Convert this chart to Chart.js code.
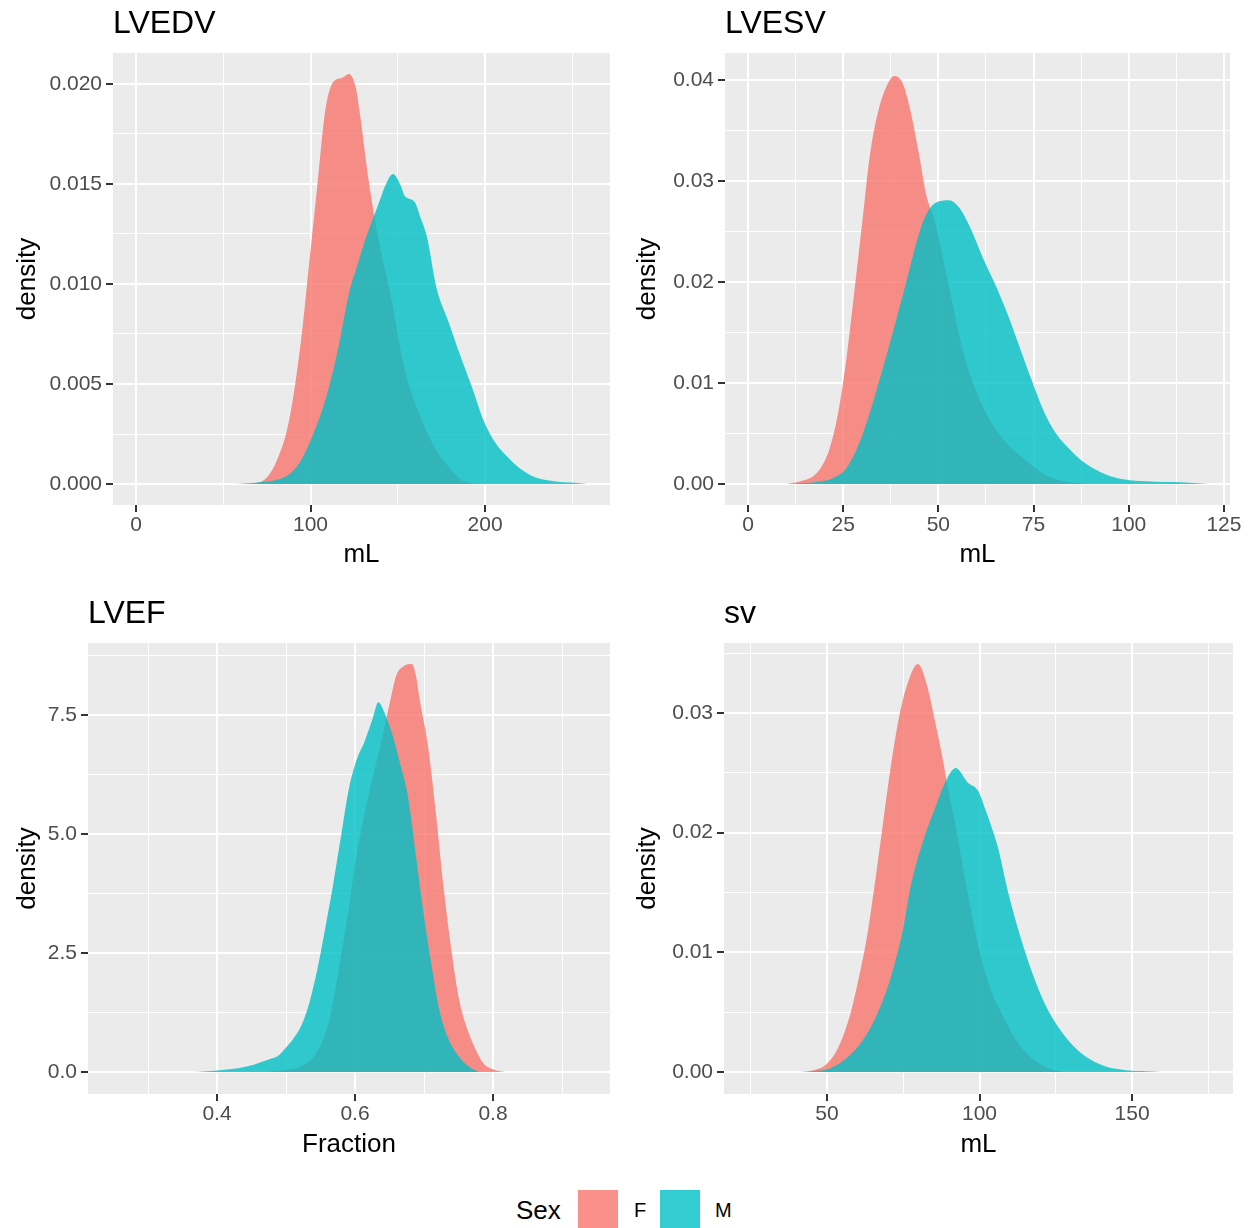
<!DOCTYPE html>
<html>
<head>
<meta charset="utf-8">
<title>Density by sex</title>
<script src="https://cdn.jsdelivr.net/npm/chart.js@4.4.1/dist/chart.umd.min.js"></script>
<style>
  body { margin: 0; background: #fff; width: 1254px; height: 1228px; position: relative; overflow: hidden;
         font-family: "Liberation Sans", Arial, sans-serif; }
  canvas { position: absolute; }
  .lg { position: absolute; white-space: nowrap; }
  .key { position: absolute; width: 40px; height: 38px; }
</style>
</head>
<body>
<canvas id="lvedv" width="620" height="580" style="left:0;top:0"></canvas>
<canvas id="lvesv" width="634" height="580" style="left:620px;top:0"></canvas>
<canvas id="lvef" width="620" height="580" style="left:0;top:590px"></canvas>
<canvas id="sv" width="634" height="580" style="left:620px;top:590px"></canvas>
<div id="legend"></div>
<script>
// groups
const sexes = ["F", "M"];
const sexColors = ["rgba(248,118,109,0.8)", "rgba(0,191,196,0.8)"];

// LVEDV (mL)
const lvedvF_x = [56, 64, 72, 81, 88, 95, 99.4, 104, 108.5, 113, 118, 122, 126, 128, 133.6, 139, 146, 154, 161, 170, 179, 188, 198];
const lvedvF_y = [0, 0.00003, 0.00013, 0.00124, 0.0033, 0.0075, 0.0112, 0.015, 0.0187, 0.0201, 0.0203, 0.0205, 0.0198, 0.0187, 0.015, 0.0122, 0.0094, 0.0057, 0.0038, 0.002, 0.00087, 0.00013, 0];
const lvedvM_x = [58.5, 70, 81.2, 88, 94.9, 101.7, 108.5, 115.4, 122.2, 126.7, 131.3, 138.1, 143.8, 147.2, 151.8, 154, 159.7, 163.1, 166.6, 172.2, 179.1, 185.9, 192.7, 199.5, 206.4, 213.2, 220, 229.1, 240.5, 249.6, 258.7];
const lvedvM_y = [0, 0.00008, 0.00022, 0.0005, 0.00124, 0.00254, 0.0042, 0.0066, 0.0096, 0.0109, 0.0122, 0.0138, 0.0151, 0.0155, 0.0149, 0.0144, 0.0141, 0.0133, 0.0124, 0.0098, 0.0081, 0.0064, 0.0048, 0.0031, 0.002, 0.00133, 0.00078, 0.00032, 0.00013, 0.00007, 0];

// LVESV (mL)
const lvesvF_x = [10.3, 14, 17.2, 19.3, 21.5, 23.6, 25.7, 27.8, 30, 32, 34.2, 36.3, 38.4, 40.6, 42.7, 44.8, 46.9, 49.1, 53.3, 56.5, 59.7, 63.9, 68.2, 72.4, 77.7, 83, 88.4];
const lvesvF_y = [0, 0.0003, 0.0008, 0.0017, 0.0036, 0.0069, 0.012, 0.0186, 0.0259, 0.0325, 0.0369, 0.0393, 0.0404, 0.0397, 0.0369, 0.0329, 0.0285, 0.0259, 0.0186, 0.0131, 0.0094, 0.0061, 0.0039, 0.0025, 0.001, 0.00026, 0];
const lvesvM_x = [12, 19.3, 22.5, 25.7, 29.9, 35.3, 40.6, 45.9, 49.1, 52.8, 55.4, 58.6, 61.8, 65, 68.2, 71.4, 74.6, 77.7, 80.9, 84.1, 88.4, 93.7, 99, 104.3, 114.9, 121.3];
const lvesvM_y = [0, 0.00026, 0.0006, 0.0015, 0.0047, 0.0113, 0.0186, 0.0259, 0.0278, 0.0281, 0.0274, 0.0252, 0.0223, 0.0197, 0.0168, 0.0135, 0.0102, 0.0072, 0.005, 0.0036, 0.0021, 0.001, 0.00044, 0.00026, 0.00015, 0];

// LVEF (fraction)
const lvefF_x = [0.47, 0.499, 0.522, 0.545, 0.562, 0.579, 0.591, 0.602, 0.619, 0.637, 0.651, 0.66, 0.671, 0.6825, 0.688, 0.694, 0.7055, 0.717, 0.728, 0.74, 0.751, 0.763, 0.774, 0.7857, 0.803, 0.817];
const lvefF_y = [0, 0.04, 0.12, 0.43, 1.05, 2.37, 3.45, 4.54, 5.78, 6.87, 7.8, 8.34, 8.53, 8.57, 8.34, 7.8, 6.87, 5.47, 3.92, 2.52, 1.51, 0.89, 0.5, 0.19, 0.04, 0];
const lvefM_x = [0.3645, 0.3845, 0.4074, 0.43, 0.453, 0.476, 0.4877, 0.499, 0.5106, 0.522, 0.5335, 0.545, 0.5564, 0.568, 0.5794, 0.5908, 0.6023, 0.6137, 0.6252, 0.6338, 0.6424, 0.6539, 0.6653, 0.6768, 0.6883, 0.6997, 0.7112, 0.7226, 0.734, 0.7513, 0.7685, 0.78];
const lvefM_y = [0, 0.015, 0.04, 0.08, 0.155, 0.27, 0.33, 0.5, 0.7, 0.97, 1.44, 2.13, 2.99, 3.92, 4.93, 5.93, 6.56, 6.94, 7.41, 7.77, 7.56, 7.1, 6.48, 5.78, 4.54, 3.3, 2.21, 1.28, 0.74, 0.31, 0.08, 0];

// SV (mL)
const svF_x = [41, 45.6, 49.6, 53.6, 57.6, 60.2, 62.9, 65.6, 68.2, 70.9, 73.5, 76.2, 79.8, 82.8, 85.5, 88.2, 89.5, 92.2, 94.8, 97.5, 100.1, 104.1, 108.1, 112.1, 117.4, 122.7, 128];
const svF_y = [0, 0.00015, 0.0006, 0.002, 0.0048, 0.0076, 0.011, 0.0156, 0.0205, 0.0255, 0.0295, 0.0323, 0.0341, 0.0323, 0.0292, 0.0258, 0.0239, 0.0205, 0.0168, 0.0131, 0.01, 0.0066, 0.0045, 0.0026, 0.0011, 0.0003, 0];
const svM_x = [42, 45.6, 50.9, 56.2, 61.6, 66.9, 70.9, 74.9, 77.5, 81.5, 85.5, 88.2, 92.2, 96.1, 99.5, 102.1, 106.1, 109.4, 113.4, 117.4, 121.4, 125.4, 130.7, 136, 141.4, 148, 154.7, 159.3];
const svM_y = [0, 0.00006, 0.0003, 0.0011, 0.0026, 0.0051, 0.0079, 0.0119, 0.0156, 0.0193, 0.0221, 0.0239, 0.0254, 0.0242, 0.0235, 0.0218, 0.0187, 0.015, 0.0113, 0.0082, 0.0057, 0.0039, 0.0022, 0.0011, 0.00046, 0.00015, 0.00006, 0];

// ticks
const lvedvXMajor = [0, 100, 200], lvedvXLabels = ["0", "100", "200"], lvedvXMinor = [50, 150, 250];
const lvedvYMajor = [0, 0.005, 0.01, 0.015, 0.02], lvedvYLabels = ["0.000", "0.005", "0.010", "0.015", "0.020"], lvedvYMinor = [0.0025, 0.0075, 0.0125, 0.0175];
const lvesvXMajor = [0, 25, 50, 75, 100, 125], lvesvXLabels = ["0", "25", "50", "75", "100", "125"], lvesvXMinor = [12.5, 37.5, 62.5, 87.5, 112.5];
const lvesvYMajor = [0, 0.01, 0.02, 0.03, 0.04], lvesvYLabels = ["0.00", "0.01", "0.02", "0.03", "0.04"], lvesvYMinor = [0.005, 0.015, 0.025, 0.035];
const lvefXMajor = [0.4, 0.6, 0.8], lvefXLabels = ["0.4", "0.6", "0.8"], lvefXMinor = [0.3, 0.5, 0.7, 0.9];
const lvefYMajor = [0, 2.5, 5, 7.5], lvefYLabels = ["0.0", "2.5", "5.0", "7.5"], lvefYMinor = [1.25, 3.75, 6.25, 8.75];
const svXMajor = [50, 100, 150], svXLabels = ["50", "100", "150"], svXMinor = [25, 75, 125, 175];
const svYMajor = [0, 0.01, 0.02, 0.03], svYLabels = ["0.00", "0.01", "0.02", "0.03"], svYMinor = [0.005, 0.015, 0.025, 0.035];

Chart.defaults.font.family = '"Liberation Sans", Arial, sans-serif';

const panelBg = {
  id: 'panelBg',
  beforeDraw(chart) {
    const a = chart.chartArea;
    chart.ctx.save();
    chart.ctx.fillStyle = '#EBEBEB';
    chart.ctx.fillRect(a.left, a.top, a.right - a.left, a.bottom - a.top);
    chart.ctx.restore();
  }
};

const panelTitle = {
  id: 'panelTitle',
  afterDraw(chart, args, opts) {
    const ctx = chart.ctx;
    ctx.save();
    ctx.font = '32px "Liberation Sans", Arial, sans-serif';
    ctx.fillStyle = '#000';
    ctx.textBaseline = 'alphabetic';
    ctx.fillText(opts.text, chart.chartArea.left, 33);
    ctx.restore();
  }
};

function pts(xs, ys) {
  return xs.map((x, i) => ({ x: x, y: ys[i] }));
}

function findIdx(list, v) {
  return list.findIndex(m => Math.abs(m - v) < 1e-9);
}

function axis(o) {
  // o: min, max, major, labels, minor, size, title, isX
  const all = o.major.concat(o.minor).sort((a, b) => a - b);
  const isMajor = c => c.tick && findIdx(o.major, c.tick.value) >= 0;
  return {
    type: 'linear',
    min: o.min,
    max: o.max,
    afterBuildTicks: s => { s.ticks = all.map(v => ({ value: v })); },
    afterFit: s => { if (o.isX) s.height = o.size; else s.width = o.size; },
    ticks: {
      autoSkip: false,
      maxRotation: 0,
      color: '#4D4D4D',
      font: { size: 21 },
      padding: o.isX ? 1 : 4,
      callback: v => { const i = findIdx(o.major, v); return i >= 0 ? o.labels[i] : ''; }
    },
    grid: {
      color: '#FFFFFF',
      lineWidth: c => isMajor(c) ? 2 : 1,
      tickColor: c => isMajor(c) ? '#333333' : 'rgba(0,0,0,0)',
      tickLength: 7,
      tickWidth: 2
    },
    border: { display: false },
    title: {
      display: true,
      text: o.title,
      color: '#000',
      font: { size: 26 },
      padding: o.isX ? { top: 0, bottom: 10 } : { top: 12, bottom: 0 }
    }
  };
}

function makePanel(id, p) {
  new Chart(document.getElementById(id), {
    type: 'line',
    data: {
      datasets: [
        { label: sexes[0], data: pts(p.fx, p.fy), backgroundColor: sexColors[0], borderColor: 'rgba(0,0,0,0)',
          borderWidth: 0, fill: 'origin', pointRadius: 0, cubicInterpolationMode: 'monotone', order: 2 },
        { label: sexes[1], data: pts(p.mx, p.my), backgroundColor: sexColors[1], borderColor: 'rgba(0,0,0,0)',
          borderWidth: 0, fill: 'origin', pointRadius: 0, cubicInterpolationMode: 'monotone', order: 1 }
      ]
    },
    options: {
      responsive: false,
      animation: false,
      events: [],
      layout: { padding: { top: 53, right: p.padRight, left: 0, bottom: 0 } },
      plugins: { legend: { display: false }, tooltip: { enabled: false }, panelTitle: { text: p.title } },
      scales: {
        x: axis(Object.assign({ isX: true, title: p.xTitle }, p.x)),
        y: axis(Object.assign({ isX: false, title: 'density' }, p.y))
      }
    },
    plugins: [panelBg, panelTitle]
  });
}

makePanel('lvedv', {
  title: 'LVEDV', xTitle: 'mL', padRight: 10,
  fx: lvedvF_x, fy: lvedvF_y, mx: lvedvM_x, my: lvedvM_y,
  x: { min: -13.18, max: 271.6, major: lvedvXMajor, labels: lvedvXLabels, minor: lvedvXMinor, size: 75 },
  y: { min: -0.00105, max: 0.02155, major: lvedvYMajor, labels: lvedvYLabels, minor: lvedvYMinor, size: 113 }
});
makePanel('lvesv', {
  title: 'LVESV', xTitle: 'mL', padRight: 24,
  fx: lvesvF_x, fy: lvesvF_y, mx: lvesvM_x, my: lvesvM_y,
  x: { min: -6.04, max: 126.6, major: lvesvXMajor, labels: lvesvXLabels, minor: lvesvXMinor, size: 75 },
  y: { min: -0.00208, max: 0.04267, major: lvesvYMajor, labels: lvesvYLabels, minor: lvesvYMinor, size: 105 }
});
makePanel('lvef', {
  title: 'LVEF', xTitle: 'Fraction', padRight: 10,
  fx: lvefF_x, fy: lvefF_y, mx: lvefM_x, my: lvefM_y,
  x: { min: 0.213, max: 0.9695, major: lvefXMajor, labels: lvefXLabels, minor: lvefXMinor, size: 76 },
  y: { min: -0.462, max: 9.013, major: lvefYMajor, labels: lvefYLabels, minor: lvefYMinor, size: 88 }
});
makePanel('sv', {
  title: 'sv', xTitle: 'mL', padRight: 21,
  fx: svF_x, fy: svF_y, mx: svM_x, my: svM_y,
  x: { min: 16.23, max: 183.1, major: svXMajor, labels: svXLabels, minor: svXMinor, size: 76 },
  y: { min: -0.00184, max: 0.03585, major: svYMajor, labels: svYLabels, minor: svYMinor, size: 104 }
});

// legend
const legend = document.getElementById('legend');
legend.innerHTML =
  '<div class="lg" style="left:516px;top:1194px;font-size:26px;line-height:32px;">Sex</div>' +
  '<div class="key" style="left:578px;top:1190px;background:' + sexColors[0] + '"></div>' +
  '<div class="lg" style="left:634px;top:1197px;font-size:20px;line-height:26px;">' + sexes[0] + '</div>' +
  '<div class="key" style="left:660px;top:1190px;background:' + sexColors[1] + '"></div>' +
  '<div class="lg" style="left:715px;top:1197px;font-size:20px;line-height:26px;">' + sexes[1] + '</div>';
</script>
</body>
</html>
